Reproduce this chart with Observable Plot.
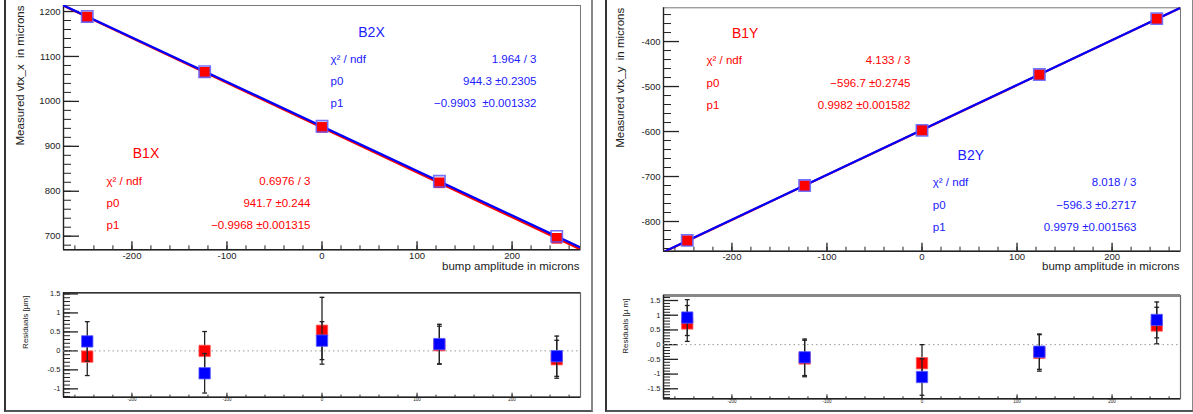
<!DOCTYPE html>
<html>
<head>
<meta charset="utf-8">
<script src="https://cdn.jsdelivr.net/npm/d3@7"></script>
<script src="https://cdn.jsdelivr.net/npm/@observablehq/plot@0.6"></script>
<style>
  body { margin: 0; background: #fff; font-family: "Liberation Sans", Arial, Helvetica, sans-serif; }
  #root { position: relative; width: 1193px; height: 414px; overflow: hidden; background: #fff; }
  .panel { position: absolute; top: -2px; height: 414px; box-sizing: border-box;
           border-left: 2px solid #333; border-right: 2px solid #888; border-bottom: 2px solid #555; }
  .slot { position: absolute; }
  .slot svg { display: block; background: transparent; }
</style>
</head>
<body>
<div id="root">
  <div class="panel" style="left:4px; width:589px;"></div>
  <div class="panel" style="left:605px; width:589px;"></div>
</div>
<script>
// ---------------- data ----------------
const bump = [-247, -123.5, 0, 123.5, 247];               // bump amplitude (microns)

const vtxB1X = [1187.8, 1064.8, 942.2, 818.8, 695.3];      // measured vtx_x, B1
const vtxB2X = [1189.1, 1066.0, 944.6, 822.2, 699.6];      // measured vtx_x, B2
const vtxB1Y = [-842.6, -720.5, -597.3, -473.7, -349.5];   // measured vtx_y, B1
const vtxB2Y = [-841.9, -720.0, -597.4, -473.3, -349.0];   // measured vtx_y, B2

const resB1X = [-0.15, 0.00, 0.53, 0.15, -0.22];
const errB1X = [0.50, 0.51, 0.88, 0.50, 0.50];
const resB2X = [0.25, -0.59, 0.27, 0.18, -0.14];
const errB2X = [0.52, 0.52, 0.50, 0.52, 0.53];
const resB1Y = [0.72, -0.47, -0.63, -0.28, 0.65];
const errB1Y = [0.61, 0.62, 0.63, 0.62, 0.62];
const resB2Y = [0.92, -0.43, -1.10, -0.24, 0.84];
const errB2Y = [0.61, 0.62, 0.62, 0.60, 0.61];

// linear fit parameters (p0 + p1 * x)
const fitB1X = [941.7, -0.9968];
const fitB2X = [944.3, -0.9903];
const fitB1Y = [-596.7, 0.9982];
const fitB2Y = [-596.3, 0.9979];

// fit statistics boxes
const statLabels = ["χ² / ndf", "p0", "p1"];
const statsB1X = ["0.6976 / 3", "941.7 ±0.244", "−0.9968 ±0.001315"];
const statsB2X = ["1.964 / 3", "944.3 ±0.2305", "−0.9903  ±0.001332"];
const statsB1Y = ["4.133 / 3", "−596.7 ±0.2745", "0.9982 ±0.001582"];
const statsB2Y = ["8.018 / 3", "−596.3 ±0.2717", "0.9979 ±0.001563"];

// axes
const xDomain = [-272, 272];
const xMajor = [-200, -100, 0, 100, 200];
const yDomainX = [669.7, 1213.4];
const yMajorX = [700, 800, 900, 1000, 1100, 1200];
const yDomainY = [-866, -325];
const yMajorY = [-800, -700, -600, -500, -400];
const resDomainX = [-1.22, 1.53];
const resMajorX = [-1, -0.5, 0, 0.5, 1, 1.5];
const resDomainY = [-1.84, 1.67];
const resMajorY = [-1.5, -1, -0.5, 0, 0.5, 1, 1.5];

// ---------------- drawing ----------------
const FONT = '"Liberation Sans", Arial, Helvetica, sans-serif';
const RED = "#ff0000", BLUE = "#0000ff", DARK = "#222";
const capSymbol = { draw(ctx, size) { const w = Math.sqrt(size / Math.PI); ctx.moveTo(-w, 0); ctx.lineTo(w, 0); } };

function minorTicks(domain, step) {
  const lo = Math.ceil(domain[0] / step - 1e-9) * step;
  return d3.range(lo, domain[1] + 1e-9, step).map(v => +v.toFixed(6));
}
function place(svg, left, top) {
  const d = document.createElement("div");
  d.className = "slot"; d.style.left = left + "px"; d.style.top = top + "px";
  d.appendChild(svg); document.getElementById("root").appendChild(d);
}
function textBox(lines, o) {
  return Plot.text([lines.join("\n")], Object.assign({text: d => d, frameAnchor: "top-left", lineAnchor: "middle", lineHeight: 1.93, fontSize: 11.5}, o));
}

function mainPlot(c) {
  const fw = c.width - c.ml - c.mr, fh = c.height - c.mt - c.mb;
  const rows1 = bump.map((x, i) => ({x, y: c.v1[i]}));
  const rows2 = bump.map((x, i) => ({x, y: c.v2[i]}));
  const line1 = xDomain.map(x => ({x, y: c.f1[0] + c.f1[1] * x}));
  const line2 = xDomain.map(x => ({x, y: c.f2[0] + c.f2[1] * x}));
  return Plot.plot({
    width: c.width, height: c.height,
    marginLeft: c.ml, marginRight: c.mr, marginTop: c.mt, marginBottom: c.mb,
    style: {fontFamily: FONT, fontSize: "9.5px", color: DARK, background: "transparent", overflow: "visible"},
    x: {domain: xDomain},
    y: {domain: c.yDomain},
    marks: [
      Plot.frame({stroke: "#777"}),
      Plot.ruleX([xDomain[0]], {stroke: DARK, strokeWidth: 1.4}),
      Plot.ruleY([c.yDomain[0]], {stroke: DARK, strokeWidth: 1.4}),
      Plot.ruleY(minorTicks(c.yDomain, 20), {insetRight: fw - 8, stroke: DARK}),
      Plot.ruleY(c.yMajor, {insetRight: fw - 16, stroke: DARK, strokeWidth: 1.3}),
      Plot.ruleX(minorTicks(xDomain, 20), {insetTop: fh - 4, stroke: DARK}),
      Plot.ruleX(xMajor, {insetTop: fh - 8, stroke: DARK, strokeWidth: 1.3}),
      Plot.line(line1, {x: "x", y: "y", stroke: RED, strokeWidth: 2.2, clip: true}),
      Plot.line(line2, {x: "x", y: "y", stroke: BLUE, strokeWidth: 2.2, clip: true}),
      Plot.dot(rows1, {x: "x", y: "y", symbol: "square", r: 6.0, fill: RED}),
      Plot.dot(rows2, {x: "x", y: "y", symbol: "square", r: 6.4, stroke: "#5a5aff", strokeWidth: 1.6, strokeOpacity: 0.85}),
      Plot.axisY({ticks: c.yMajor, tickSize: 0, tickPadding: 3, tickFormat: d => String(d), label: null, fill: DARK}),
      Plot.axisX({ticks: xMajor, tickSize: 0, tickPadding: 2, tickFormat: d => String(d), label: null, fill: DARK}),
      Plot.text([c.yTitle], {text: d => d, frameAnchor: "top-left", rotate: -90, textAnchor: "end", lineAnchor: "middle", dx: -43.5, dy: 0, fontSize: 11.5, fill: DARK}),
      Plot.text(["bump amplitude in microns"], {text: d => d, frameAnchor: "bottom-right", textAnchor: "end", lineAnchor: "middle", dx: -1, dy: c.xTitleDy, fontSize: 11.5, fill: DARK}),
      // stats box 1 (red)
      Plot.text([c.n1], {text: d => d, frameAnchor: "top-left", textAnchor: "middle", lineAnchor: "middle", dx: c.s1.tx, dy: c.s1.ty, fontSize: 14, fill: RED}),
      textBox(statLabels, {dx: 43, dy: c.s1.ry, textAnchor: "start", fill: RED}),
      textBox(c.st1, {dx: 247, dy: c.s1.ry, textAnchor: "end", fill: RED}),
      // stats box 2 (blue)
      Plot.text([c.n2], {text: d => d, frameAnchor: "top-left", textAnchor: "middle", lineAnchor: "middle", dx: c.s2.tx, dy: c.s2.ty, fontSize: 14, fill: "#2020ff"}),
      textBox(statLabels, {dx: c.s2.lx, dy: c.s2.ry, textAnchor: "start", fill: "#2020ff"}),
      textBox(c.st2, {dx: 473, dy: c.s2.ry, textAnchor: "end", fill: "#2020ff"})
    ]
  });
}

function resPlot(c) {
  const fw = c.width - c.ml - c.mr, fh = c.height - c.mt - c.mb;
  const rows1 = bump.map((x, i) => ({x, y: c.r1[i], e: c.e1[i]}));
  const rows2 = bump.map((x, i) => ({x, y: c.r2[i], e: c.e2[i]}));
  const caps = rows => rows.flatMap(d => [{x: d.x, y: d.y - d.e}, {x: d.x, y: d.y + d.e}]);
  return Plot.plot({
    width: c.width, height: c.height,
    marginLeft: c.ml, marginRight: c.mr, marginTop: c.mt, marginBottom: c.mb,
    style: {fontFamily: FONT, fontSize: "7.5px", color: DARK, background: "transparent", overflow: "visible"},
    x: {domain: xDomain},
    y: {domain: c.yDomain},
    marks: [
      Plot.frame({stroke: "#666", strokeWidth: 1.2}),
      Plot.ruleY([c.yDomain[1]], {stroke: c.topStroke, strokeWidth: c.topW}),
      Plot.ruleX([xDomain[0]], {stroke: DARK, strokeWidth: 1.4}),
      Plot.ruleY([c.yDomain[0]], {stroke: DARK, strokeWidth: 1.4}),
      Plot.ruleY(minorTicks(c.yDomain, 0.1), {insetRight: fw - 7, stroke: DARK}),
      Plot.ruleY(c.yMajor, {insetRight: fw - 15, stroke: DARK, strokeWidth: 1.3}),
      Plot.ruleX(minorTicks(xDomain, 20), {insetTop: fh - 2, stroke: DARK}),
      Plot.ruleX(xMajor, {insetTop: fh - 4, stroke: DARK}),
      Plot.ruleY([0], {stroke: "#999", strokeDasharray: "1.5,3", strokeWidth: 1}),
      Plot.ruleX(rows1, {x: "x", y1: d => d.y - d.e, y2: d => d.y + d.e, stroke: DARK, strokeWidth: 1.3}),
      Plot.dot(caps(rows1), {x: "x", y: "y", symbol: capSymbol, r: 2.4, stroke: DARK, strokeWidth: 1.3}),
      Plot.dot(rows1, {x: "x", y: "y", symbol: "square", r: 6.4, fill: RED, stroke: "#ff5a5a", strokeWidth: 0.8}),
      Plot.ruleX(rows2, {x: "x", y1: d => d.y - d.e, y2: d => d.y + d.e, stroke: DARK, strokeWidth: 1.3}),
      Plot.dot(caps(rows2), {x: "x", y: "y", symbol: capSymbol, r: 2.4, stroke: DARK, strokeWidth: 1.3}),
      Plot.dot(rows2, {x: "x", y: "y", symbol: "square", r: 6.4, fill: BLUE, stroke: "#5a5aff", strokeWidth: 0.8}),
      Plot.axisY({ticks: c.yMajor, tickSize: 0, tickPadding: 3, tickFormat: d => String(d), label: null, fill: DARK}),
      Plot.axisX({ticks: xMajor, tickSize: 0, tickPadding: 1, tickFormat: d => String(d), label: null, fontSize: 4.5, fill: DARK}),
      Plot.text([c.title], {text: d => d, frameAnchor: "top-left", rotate: -90, textAnchor: "end", lineAnchor: "middle", dx: -38, dy: 3, fontSize: 8, fill: DARK})
    ]
  });
}

// left panel: x
place(mainPlot({
  width: 596, height: 280, ml: 63, mr: 16, mt: 5, mb: 30.7,
  yDomain: yDomainX, yMajor: yMajorX, yTitle: "Measured vtx_x  in microns", xTitleDy: 16.7,
  v1: vtxB1X, v2: vtxB2X, f1: fitB1X, f2: fitB2X,
  n1: "B1X", st1: statsB1X, s1: {tx: 82.5, ty: 148.3, ry: 194.3},
  n2: "B2X", st2: statsB2X, s2: {tx: 308, ty: 26.7, ry: 72.7, lx: 267}
}), 0, 0);
place(resPlot({
  width: 596, height: 130, ml: 63, mr: 16, mt: 12.3, mb: 13.3, topStroke: "#333", topW: 1.4,
  yDomain: resDomainX, yMajor: resMajorX, title: "Residuals [µm]",
  r1: resB1X, e1: errB1X, r2: resB2X, e2: errB2X
}), 0, 280);

// right panel: y
place(mainPlot({
  width: 593, height: 280, ml: 63, mr: 13, mt: 7.3, mb: 29.3,
  yDomain: yDomainY, yMajor: yMajorY, yTitle: "Measured vtx_y  in microns", xTitleDy: 15.3,
  v1: vtxB1Y, v2: vtxB2Y, f1: fitB1Y, f2: fitB2Y,
  n1: "B1Y", st1: statsB1Y, s1: {tx: 81.7, ty: 26, ry: 71.7},
  n2: "B2Y", st2: statsB2Y, s2: {tx: 307.3, ty: 147.7, ry: 193.7, lx: 269.3}
}), 600, 0);
place(resPlot({
  width: 593, height: 130, ml: 63, mr: 13, mt: 15, mb: 11.7, topStroke: "#888", topW: 2.8,
  yDomain: resDomainY, yMajor: resMajorY, title: "Residuals [µ m]",
  r1: resB1Y, e1: errB1Y, r2: resB2Y, e2: errB2Y
}), 600, 280);
</script>
</body>
</html>
